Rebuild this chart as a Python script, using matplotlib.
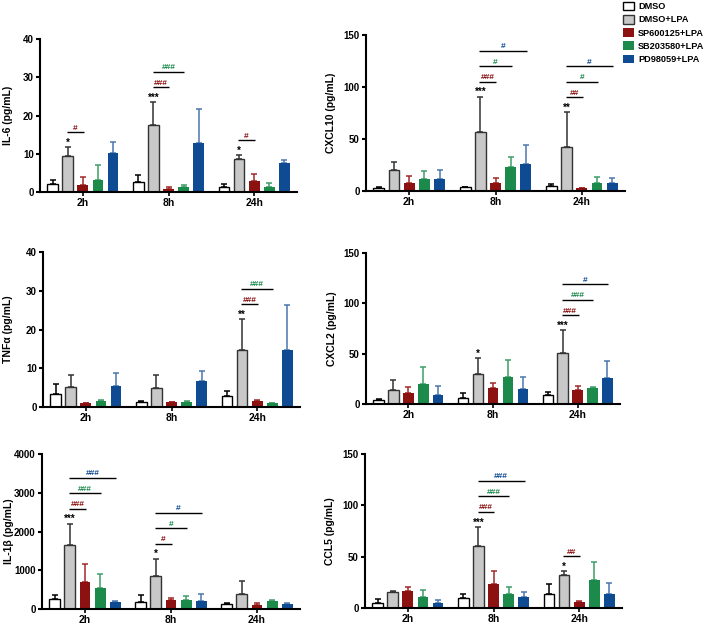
import numpy as np
import matplotlib.pyplot as plt
from matplotlib.patches import Patch

plt.rcParams['font.family'] = ['Liberation Sans', 'DejaVu Sans']
plt.rcParams['font.weight'] = 'bold'
plt.rcParams['font.size'] = 6.5
plt.rcParams['axes.labelweight'] = 'bold'

groups = ['2h', '8h', '24h']
treatments = ['DMSO', 'DMSO+LPA', 'SP600125+LPA', 'SB203580+LPA', 'PD98059+LPA']
face = ['white', '#c8c8c8', '#8c1111', '#1b8a4b', '#0f4b93']
edge = ['black', '#333333', '#8c1111', '#1b8a4b', '#0f4b93']
whisk = ['black', '#333333', '#a02828', '#3f9e66', '#4a77ad']

# rows = treatments, cols = 2h, 8h, 24h
il6_mean = [[2.1, 2.6, 1.3], [9.4, 17.5, 8.6], [1.9, 0.8, 2.8], [3.1, 1.4, 1.4], [10.1, 12.7, 7.6]]
il6_err = [[1.1, 1.9, 0.9], [2.3, 6.0, 1.0], [2.1, 0.5, 2.0], [3.9, 0.5, 0.9], [2.9, 8.9, 0.7]]
cxcl10_mean = [[3.0, 3.5, 4.5], [20, 57, 42.5], [8, 7.4, 2.9], [11.3, 22.8, 8], [11.9, 25.7, 7.4]]
cxcl10_err = [[0.5, 0.5, 2.3], [8, 33.7, 33.1], [6.8, 4.8, 0.3], [8, 10.2, 5.5], [8.1, 19, 5.1]]
tnf_mean = [[3.3, 1.4, 2.8], [5.2, 4.8, 14.8], [1.1, 1.2, 1.5], [1.6, 1.3, 1.1], [5.3, 6.7, 14.8]]
tnf_err = [[2.6, 0.2, 1.4], [3.1, 3.4, 7.8], [0.0, 0.0, 0.2], [0.2, 0.2, 0.0], [3.6, 2.7, 11.4]]
cxcl2_mean = [[3.6, 6.3, 8.6], [13.5, 29.4, 50.8], [10.6, 16.2, 13.9], [19.5, 26.7, 15.8], [9.2, 14.9, 25.7]]
cxcl2_err = [[1.7, 4.6, 3.3], [9.9, 16.1, 22.5], [5.9, 4.9, 4.3], [16.8, 17.2, 1.4], [9.0, 12.2, 16.9]]
il1b_mean = [[250, 190, 130], [1650, 855, 395], [685, 220, 110], [540, 220, 205], [170, 205, 130]]
il1b_err = [[120, 160, 30], [550, 440, 315], [480, 65, 45], [360, 125, 15], [35, 190, 15]]
ccl5_mean = [[5.2, 9.4, 13.3], [15.3, 60.7, 32.1], [16.2, 23.4, 5.5], [10.4, 14.0, 27.3], [4.5, 10.4, 13.6]]
ccl5_err = [[3.2, 4.6, 9.7], [1.6, 18.3, 3.9], [4.3, 13.0, 1.6], [6.8, 6.1, 17.2], [3.3, 5.5, 11.1]]

# significance vs DMSO (stars) and vs DMSO+LPA (hashes: group, treatment, label)
il6_stars = {0: '*', 1: '***', 2: '*'}
il6_hash = [(0, 2, '#'), (1, 2, '###'), (1, 3, '###'), (2, 2, '#')]
cxcl10_stars = {1: '***', 2: '**'}
cxcl10_hash = [(1, 2, '###'), (1, 3, '#'), (1, 4, '#'), (2, 2, '##'), (2, 3, '#'), (2, 4, '#')]
tnf_stars = {2: '**'}
tnf_hash = [(2, 2, '###'), (2, 3, '###')]
cxcl2_stars = {1: '*', 2: '***'}
cxcl2_hash = [(2, 2, '###'), (2, 3, '###'), (2, 4, '#')]
il1b_stars = {0: '***', 1: '*'}
il1b_hash = [(0, 2, '###'), (0, 3, '###'), (0, 4, '###'), (1, 2, '#'), (1, 3, '#'), (1, 4, '#')]
ccl5_stars = {1: '***', 2: '*'}
ccl5_hash = [(1, 2, '###'), (1, 3, '###'), (1, 4, '###'), (2, 2, '##')]

W, H = 709, 624
fig = plt.figure(figsize=(W / 100, H / 100), dpi=100)


def rect(x0, y0, x1, y1):
    return [x0 / W, 1 - y1 / H, (x1 - x0) / W, (y1 - y0) / H]


step = 0.176
width = 0.125


def panel(box, mean, err, ymax, ystep, ylabel, stars, hashes, labx):
    ax = fig.add_axes(rect(*box))
    mean = np.array(mean, dtype=float)
    err = np.array(err, dtype=float)
    g = np.arange(len(groups))
    for i in range(len(treatments)):
        x = g + (i - 2) * step
        ax.bar(x, mean[i], width, color=face[i], edgecolor=edge[i],
               linewidth=1.0 if i < 2 else 0, zorder=2)
        ax.errorbar(x, mean[i], yerr=[np.zeros(3), err[i]], fmt='none',
                    ecolor=whisk[i], elinewidth=1.1, capsize=2.3, capthick=1.1, zorder=1)
    ax.set_xlim(-0.5, 2.5)
    ax.set_ylim(0, ymax)
    ax.set_yticks(np.arange(0, ymax + 1, ystep))
    ax.set_xticks(g)
    ax.set_xticklabels(groups, fontsize=7.5)
    ax.set_ylabel(ylabel, fontsize=7.5)
    ax.yaxis.set_label_coords(labx, 0.5)
    for s in ['top', 'right']:
        ax.spines[s].set_visible(False)
    for s in ['left', 'bottom']:
        ax.spines[s].set_linewidth(1.5)
    ax.tick_params(axis='y', length=3, width=1.5, labelsize=7, pad=1.5)
    ax.tick_params(axis='x', length=3, width=1.2, pad=1)

    # pixel -> data conversion for placing annotations
    hpx = box[3] - box[1]
    px = ymax / hpx
    for gi, s in stars.items():
        top = mean[1, gi] + err[1, gi]
        ax.text(gi - step, top + 1.5 * px, s, ha='center', va='baseline', fontsize=7)
    level = {}
    for gi, ti, lab in hashes:
        k = level.get(gi, 0)
        level[gi] = k + 1
        top = mean[1, gi] + err[1, gi]
        y = top + (15 + 15.5 * k) * px
        x0 = gi - step
        x1 = gi + (ti - 2) * step
        ax.plot([x0 - 0.01, x1 + 0.01], [y, y], color='black', lw=1, solid_capstyle='butt')
        ax.text((x0 + x1) / 2, y + 2.5 * px, lab, ha='center', va='baseline',
                color=edge[ti], fontsize=6)
    return ax


panel((40, 39, 297, 192), il6_mean, il6_err, 40, 10, 'IL-6 (pg/mL)', il6_stars, il6_hash, -0.105)
panel((366, 35, 625, 191), cxcl10_mean, cxcl10_err, 150, 50, 'CXCL10 (pg/mL)', cxcl10_stars, cxcl10_hash, -0.115)
panel((43, 252, 300, 407), tnf_mean, tnf_err, 40, 10, 'TNF\u03b1 (pg/mL)', tnf_stars, tnf_hash, -0.115)
panel((366, 253, 620, 404), cxcl2_mean, cxcl2_err, 150, 50, 'CXCL2 (pg/mL)', cxcl2_stars, cxcl2_hash, -0.115)
panel((42, 454, 300, 609), il1b_mean, il1b_err, 4000, 1000, 'IL-1\u03b2 (pg/mL)', il1b_stars, il1b_hash, -0.11)
panel((365, 454, 622, 608), ccl5_mean, ccl5_err, 150, 50, 'CCL5 (pg/mL)', ccl5_stars, ccl5_hash, -0.115)

handles = [Patch(facecolor=face[i], edgecolor=edge[i], linewidth=1.0 if i < 2 else 0)
           for i in range(len(treatments))]
fig.legend(handles, treatments, loc='upper left', bbox_to_anchor=(619 / W, 1.003),
           frameon=False, fontsize=6.6, handlelength=1.2, handleheight=1.05,
           handletextpad=0.5, labelspacing=0.42, borderaxespad=0)

fig.savefig('out.png', dpi=100)
